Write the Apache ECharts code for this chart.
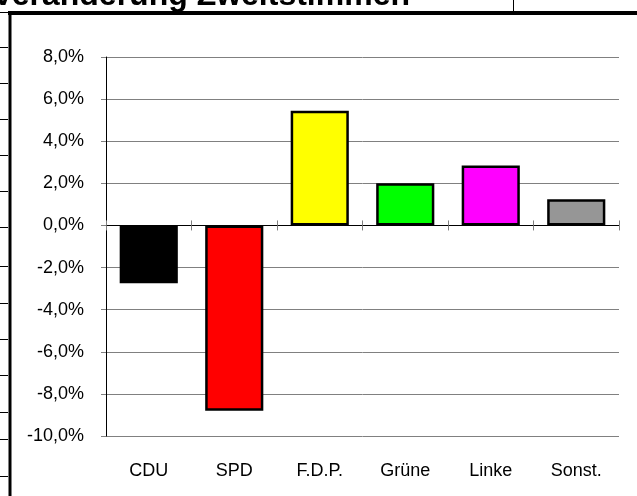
<!DOCTYPE html>
<html>
<head>
<meta charset="utf-8">
<script src="https://cdn.jsdelivr.net/npm/echarts@6/dist/echarts.min.js"></script>
<style>
  html, body { margin: 0; padding: 0; background: #fff; }
  #chart { width: 637px; height: 496px; }
</style>
</head>
<body>
<div id="chart"></div>
<script>
// Veränderung Zweitstimmen (Prozentpunkte)
var parteien = ['CDU', 'SPD', 'F.D.P.', 'Grüne', 'Linke', 'Sonst.'];
var veraenderung = [-2.75, -8.8, 5.45, 2.0, 2.85, 1.25];
var farben = ['#000000', '#ff0000', '#ffff00', '#00ff00', '#ff00ff', '#969696'];
var yMin = -10, yMax = 8, yStep = 2;
var titel = 'Veränderung Zweitstimmen';

var chart = echarts.init(document.getElementById('chart'));

var schrift = 'Liberation Sans, Arial, sans-serif';

// Rahmen der umgebenden Tabelle (nur Dekoration)
var rahmen = [
  { type: 'text', style: { x: 410, y: 12, text: titel, fill: '#000', font: 'bold 32px ' + schrift, align: 'right', verticalAlign: 'bottom' } },
  { type: 'line', shape: { x1: 513.5, y1: 0, x2: 513.5, y2: 11 }, style: { stroke: '#000', lineWidth: 1 } },
  { type: 'line', shape: { x1: 8, y1: 13, x2: 637, y2: 13 }, style: { stroke: '#000', lineWidth: 4 } },
  { type: 'line', shape: { x1: 10, y1: 11, x2: 10, y2: 496 }, style: { stroke: '#000', lineWidth: 3 } }
];
[12, 47, 83, 119, 155, 191, 227, 266, 303, 339, 375, 412, 439, 476].forEach(function (y) {
  rahmen.push({ type: 'line', shape: { x1: 0, y1: y + 0.5, x2: 8, y2: y + 0.5 }, style: { stroke: '#000', lineWidth: 1 } });
});

var option = {
  backgroundColor: '#fff',
  animation: false,
  grid: { left: 106, right: 18, top: 57, bottom: 60 },
  xAxis: [
    {
      type: 'category', data: parteien, position: 'bottom',
      axisLine: { onZero: true, onZeroAxisIndex: 0, lineStyle: { color: '#000', width: 1 } },
      axisTick: { show: true, length: 5, lineStyle: { color: '#808080' } },
      axisLabel: { show: false }
    },
    {
      type: 'category', data: parteien, position: 'bottom',
      axisLine: { show: false, onZero: true, onZeroAxisIndex: 0 },
      axisTick: { show: true, inside: true, length: 5, lineStyle: { color: '#808080' } },
      axisLabel: { show: false }
    },
    {
      type: 'category', data: parteien, position: 'bottom',
      axisLine: { show: false, onZero: false },
      axisTick: { show: false },
      axisLabel: { margin: 26, fontSize: 18, color: '#000', fontFamily: schrift }
    }
  ],
  yAxis: {
    type: 'value', min: yMin, max: yMax, interval: yStep,
    axisLine: { show: true, lineStyle: { color: '#000', width: 1 } },
    axisTick: { show: true, length: 5, lineStyle: { color: '#808080' } },
    splitLine: { show: true, lineStyle: { color: '#808080', width: 1 } },
    axisLabel: {
      margin: 22, fontSize: 18, color: '#000', fontFamily: schrift,
      formatter: function (v) { return v.toFixed(1).replace('.', ',') + '%'; }
    }
  },
  series: [{
    type: 'bar',
    xAxisIndex: 0,
    barWidth: '68%',
    data: veraenderung.map(function (v, i) {
      return { value: v, itemStyle: { color: farben[i], borderColor: '#000', borderWidth: 2.5 } };
    })
  }],
  graphic: rahmen
};

chart.setOption(option);
</script>
</body>
</html>
